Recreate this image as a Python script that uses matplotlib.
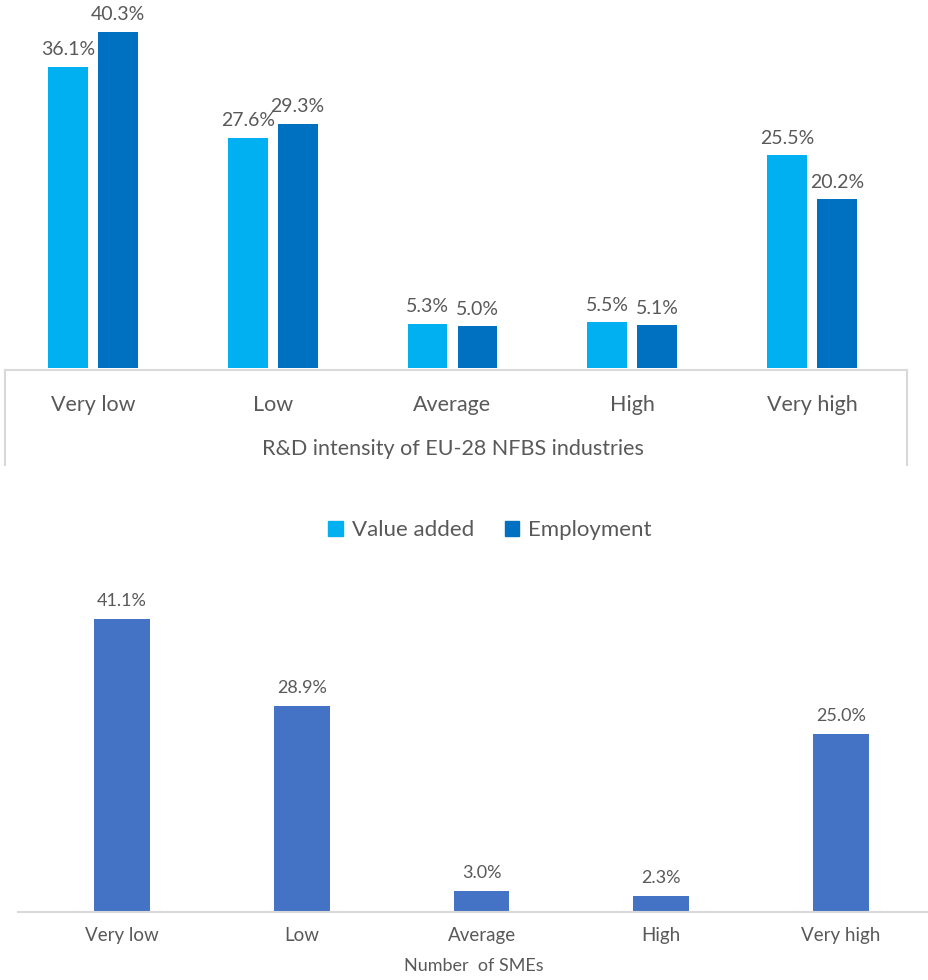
import matplotlib
matplotlib.use("Agg")
import matplotlib.pyplot as plt
from matplotlib.lines import Line2D
from matplotlib.patches import Patch

plt.rcParams['font.family'] = ['Lato', 'DejaVu Sans']

categories = ["Very low", "Low", "Average", "High", "Very high"]
value_added = [36.1, 27.6, 5.3, 5.5, 25.5]
employment = [40.3, 29.3, 5.0, 5.1, 20.2]
smes = [41.1, 28.9, 3.0, 2.3, 25.0]

top_xlabel = "R&D intensity of EU-28 NFBS industries"
bottom_xlabel = "Number  of SMEs"
series_names = ["Value added", "Employment"]

C_VA = "#00B0F0"
C_EMP = "#0070C0"
C_SME = "#4472C4"
TXT = "#595959"

W, H = 929, 980
fig = plt.figure(figsize=(W / 100, H / 100), dpi=100)

# Top chart
ax1 = fig.add_axes([3 / W, (H - 368) / H, 899 / W, 368 / H])
x = list(range(len(categories)))
off = 0.139
bw = 0.222
b1 = ax1.bar([i - off for i in x], value_added, bw, color=C_VA)
b2 = ax1.bar([i + off for i in x], employment, bw, color=C_EMP)
for bars, vals in ((b1, value_added), (b2, employment)):
    for r, v in zip(bars, vals):
        ax1.annotate(f"{v:.1f}%", (r.get_x() + r.get_width() / 2, v),
                     xytext=(0, 6), textcoords="offset points",
                     ha="center", va="bottom", fontsize=14, color=TXT)
ax1.set_xlim(-0.5, 4.5)
ax1.set_ylim(0, 44.1)
ax1.axis("off")
for i, c in enumerate(categories):
    fig.text((93 + 179.75 * i) / W, 1 - 405 / H, c, ha="center", va="center",
             fontsize=15.5, color=TXT)
fig.text(453 / W, 1 - 449 / H, top_xlabel, ha="center", va="center",
         fontsize=15.5, color=TXT)
gray = "#D9D9D9"
fig.add_artist(Line2D([5 / W, 907 / W], [1 - 370 / H, 1 - 370 / H], color=gray, lw=1.5))
fig.add_artist(Line2D([5 / W, 5 / W], [1 - 370 / H, 1 - 465 / H], color=gray, lw=1.5))
fig.add_artist(Line2D([907 / W, 907 / W], [1 - 370 / H, 1 - 465 / H], color=gray, lw=1.5))

# Legend
handles = [Patch(color=C_VA), Patch(color=C_EMP)]
fig.legend(handles, series_names, loc="center", bbox_to_anchor=(490 / W, 1 - 530 / H),
           ncol=2, frameon=False, fontsize=16, labelcolor=TXT,
           handlelength=0.65, handleheight=0.65, handletextpad=0.4, columnspacing=1.4)

# Bottom chart
ax2 = fig.add_axes([18 / W, 68 / H, 911 / W, 322 / H])
b3 = ax2.bar(x, smes, 0.311, color=C_SME)
for r, v in zip(b3, smes):
    ax2.annotate(f"{v:.1f}%", (r.get_x() + r.get_width() / 2, v),
                 xytext=(0, 7), textcoords="offset points",
                 ha="center", va="bottom", fontsize=13, color=TXT)
ax2.set_xlim(-0.578, 4.489)
ax2.set_ylim(0, 322 / 7.13)
for s in ("top", "right", "left"):
    ax2.spines[s].set_visible(False)
ax2.spines["bottom"].set_color(gray)
ax2.spines["bottom"].set_linewidth(1.5)
ax2.set_yticks([])
ax2.set_xticks(x)
ax2.set_xticklabels(categories, fontsize=13.5, color=TXT)
ax2.tick_params(axis="x", length=0, pad=11)
ax2.set_xlabel(bottom_xlabel, fontsize=13, color=TXT, labelpad=10)

fig.savefig("out.png", dpi=100, facecolor="white")
